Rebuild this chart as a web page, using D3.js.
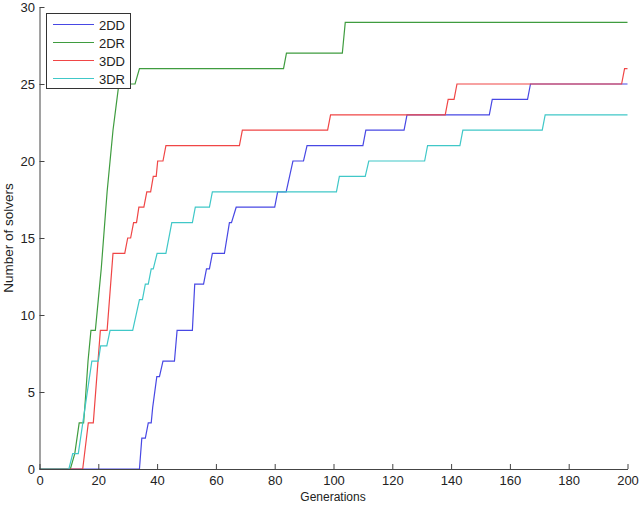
<html>
<head>
<script src="https://cdn.jsdelivr.net/npm/d3@7"></script>
<style>
  body { margin: 0; background: #fff; }
  text { font-family: "Liberation Sans", Arial, sans-serif; fill: #222; }
</style>
</head>
<body>
<svg width="640" height="505"></svg>
<script>
// series names (legend order)
var seriesNames = ["2DD", "2DR", "3DD", "3DR"];
var seriesColors = ["#4848e4", "#3f9c3f", "#f04646", "#40c8c8"];

// [generation, number of solvers] corner points
var pts2DD = [[0,0],[34,0],[34.8,2],[36,2],[37,3],[38,3],[38.5,4],[39.9,6],[40.8,6],[42,7],[45.9,7],[46.8,9],[52,9],[52.8,12],[55.8,12],[56.8,13],[57.8,13],[58.8,14],[62.9,14],[64.6,16],[65.3,16],[66.9,17],[80,17],[81,18],[83.9,18],[86.2,20],[89.8,20],[91,21],[110,21],[111,22],[124,22],[125,23],[153,23],[154,24],[166,24],[167,25],[200,25]];
var pts2DR = [[0,0],[10.5,0],[12,1],[13.5,3],[15,3],[15.6,4.5],[16.5,7],[17.5,9],[19,9],[20,11],[21,13],[22,15.5],[23,18],[24,20],[25,22],[26,23.5],[27,25],[32.5,25],[34,26],[83,26],[84,27],[103,27],[104,29],[200,29]];
var pts3DD = [[0,0],[14.7,0],[16.6,3],[18.3,3],[20.7,9],[23,9],[25,14],[29,14],[30,15],[31,15],[32,16],[33,16],[33.8,17],[35.5,17],[36.5,18],[37.8,18],[38.7,19],[39.7,19],[40.2,20],[42,20],[43,21],[68,21],[69,22],[98,22],[99,23],[138,23],[139,24],[141,24],[142,25],[198,25],[199,26],[200,26]];
var pts3DR = [[0,0],[10,0],[11.3,1],[13.2,1],[17.8,7],[20,7],[20.8,8],[22.9,8],[24,9],[31.7,9],[34,11],[35,11],[36,12],[37,12],[38,13],[38.7,13],[40,14],[43,14],[45,16],[52,16],[53,17],[57.8,17],[58.8,18],[101,18],[102,19],[110.8,19],[112,20],[131,20],[132,21],[143,21],[144,22],[171,22],[172,23],[200,23]];
var allPoints = [pts2DD, pts2DR, pts3DD, pts3DR];

var xTicks = [0, 20, 40, 60, 80, 100, 120, 140, 160, 180, 200];
var yTicks = [0, 5, 10, 15, 20, 25, 30];

var svg = d3.select("svg");
var x = d3.scaleLinear().domain([0, 200]).range([39.5, 627.5]);
var y = d3.scaleLinear().domain([0, 30]).range([469, 7]);

var line = d3.line()
  .x(function(d) { return x(d[0]); })
  .y(function(d) { return y(d[1]); });

svg.selectAll("path.series")
  .data(allPoints)
  .enter()
  .append("path")
  .attr("class", "series")
  .attr("d", function(d) { return line(d); })
  .attr("fill", "none")
  .attr("stroke", function(d, i) { return seriesColors[i]; })
  .attr("stroke-width", 1.2);

// axes, ticks inward like matlab
var xAxis = svg.append("g").attr("transform", "translate(0,469)")
  .call(d3.axisBottom(x).tickValues(xTicks).tickSizeInner(-5).tickSizeOuter(0).tickPadding(7));
var yAxis = svg.append("g").attr("transform", "translate(39.5,0)")
  .call(d3.axisLeft(y).tickValues(yTicks).tickSizeInner(-5).tickSizeOuter(0).tickPadding(4.5));

[xAxis, yAxis].forEach(function(a) {
  a.select(".domain").attr("stroke", "#444");
  a.selectAll(".tick line").attr("stroke", "#444");
  a.selectAll("text").style("font-family", "Liberation Sans, Arial, sans-serif")
    .style("font-size", "13px").attr("fill", "#222");
});

svg.append("text")
  .attr("x", 333).attr("y", 501)
  .attr("text-anchor", "middle")
  .style("font-size", "12px")
  .text("Generations");

svg.append("text")
  .attr("transform", "translate(13,238) rotate(-90)")
  .attr("text-anchor", "middle")
  .style("font-size", "13.5px")
  .text("Number of solvers");

// legend
var legend = svg.append("g");
legend.append("rect")
  .attr("x", 46.5).attr("y", 13.5).attr("width", 84).attr("height", 75)
  .attr("fill", "#fff").attr("stroke", "#333").attr("stroke-width", 1);

seriesNames.forEach(function(name, i) {
  var yy = 24.5 + i * 18;
  legend.append("line")
    .attr("x1", 53).attr("x2", 94).attr("y1", yy).attr("y2", yy)
    .attr("stroke", seriesColors[i]).attr("stroke-width", 1.2);
  legend.append("text")
    .attr("x", 99).attr("y", yy + 5)
    .style("font-size", "13px")
    .text(name);
});
</script>
</body>
</html>
